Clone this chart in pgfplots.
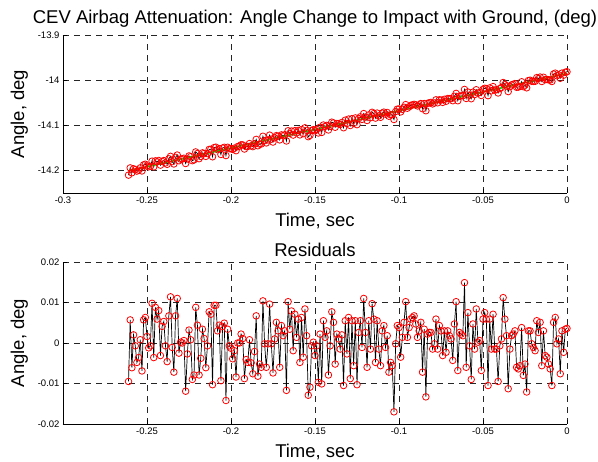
\documentclass[border=0pt]{standalone}
\usepackage{fontspec}
\setmainfont{Liberation Sans}
\usepackage{pgfplots}
\usepackage{pgfplotstable}
\pgfplotsset{compat=1.18}
\definecolor{fitgreen}{RGB}{0,210,0}

% t, angle, residual
\pgfplotstableread{
t y r
-0.261 -14.2104 -0.0095
-0.260 -14.1944 0.0057
-0.259 -14.2053 -0.0061
-0.258 -14.1964 0.0020
-0.257 -14.1983 -0.0007
-0.256 -14.2015 -0.0048
-0.255 -14.1995 -0.0036
-0.254 -14.1943 0.0008
-0.253 -14.2012 -0.0069
-0.252 -14.1877 0.0057
-0.251 -14.1863 0.0063
-0.250 -14.1902 0.0016
-0.249 -14.1921 -0.0012
-0.248 -14.1908 -0.0007
-0.247 -14.1795 0.0098
-0.246 -14.1921 -0.0036
-0.245 -14.1788 0.0088
-0.244 -14.1809 0.0059
-0.243 -14.1780 0.0080
-0.242 -14.1883 -0.0031
-0.241 -14.1802 0.0041
-0.240 -14.1782 0.0053
-0.239 -14.1834 -0.0007
-0.238 -14.1865 -0.0046
-0.237 -14.1743 0.0067
-0.236 -14.1688 0.0114
-0.235 -14.1805 -0.0011
-0.234 -14.1857 -0.0072
-0.233 -14.1710 0.0067
-0.232 -14.1659 0.0110
-0.231 -14.1786 -0.0025
-0.230 -14.1750 0.0002
-0.229 -14.1744 0.0000
-0.228 -14.1730 0.0006
-0.227 -14.1847 -0.0119
-0.226 -14.1746 -0.0027
-0.225 -14.1679 0.0032
-0.224 -14.1695 0.0008
-0.223 -14.1784 -0.0090
-0.222 -14.1765 -0.0079
-0.221 -14.1590 0.0088
-0.220 -14.1626 0.0044
-0.219 -14.1740 -0.0079
-0.218 -14.1691 -0.0038
-0.217 -14.1611 0.0034
-0.216 -14.1626 0.0011
-0.215 -14.1689 -0.0061
-0.214 -14.1627 -0.0007
-0.213 -14.1535 0.0077
-0.212 -14.1533 0.0071
-0.211 -14.1698 -0.0103
-0.210 -14.1494 0.0093
-0.209 -14.1486 0.0093
-0.208 -14.1540 0.0030
-0.207 -14.1518 0.0044
-0.206 -14.1647 -0.0093
-0.205 -14.1505 0.0041
-0.204 -14.1488 0.0049
-0.203 -14.1671 -0.0142
-0.202 -14.1487 0.0034
-0.201 -14.1520 -0.0007
-0.200 -14.1517 -0.0013
-0.199 -14.1535 -0.0039
-0.198 -14.1507 -0.0019
-0.197 -14.1563 -0.0084
-0.196 -14.1471 0.0000
-0.195 -14.1463 0.0000
-0.194 -14.1433 0.0022
-0.193 -14.1435 0.0011
-0.192 -14.1526 -0.0088
-0.191 -14.1471 -0.0041
-0.190 -14.1470 -0.0048
-0.189 -14.1405 0.0008
-0.188 -14.1454 -0.0049
-0.187 -14.1473 -0.0076
-0.186 -14.1409 -0.0021
-0.185 -14.1313 0.0067
-0.184 -14.1454 -0.0082
-0.183 -14.1416 -0.0052
-0.182 -14.1415 -0.0060
-0.181 -14.1243 0.0104
-0.180 -14.1341 -0.0002
-0.179 -14.1391 -0.0060
-0.178 -14.1324 -0.0002
-0.177 -14.1218 0.0096
-0.176 -14.1308 -0.0002
-0.175 -14.1372 -0.0074
-0.174 -14.1279 0.0010
-0.173 -14.1230 0.0051
-0.172 -14.1243 0.0030
-0.171 -14.1324 -0.0060
-0.170 -14.1213 0.0043
-0.169 -14.1230 0.0018
-0.168 -14.1210 0.0030
-0.167 -14.1348 -0.0117
-0.166 -14.1121 0.0102
-0.165 -14.1181 0.0034
-0.164 -14.1128 0.0079
-0.163 -14.1217 -0.0019
-0.162 -14.1119 0.0071
-0.161 -14.1168 0.0014
-0.160 -14.1114 0.0059
-0.159 -14.1213 -0.0048
-0.158 -14.1094 0.0063
-0.157 -14.1184 -0.0035
-0.156 -14.1056 0.0084
-0.155 -14.1114 0.0018
-0.154 -14.1253 -0.0129
-0.153 -14.1225 -0.0109
-0.152 -14.1114 -0.0007
-0.151 -14.1097 0.0002
-0.150 -14.1122 -0.0031
-0.149 -14.1089 -0.0007
-0.148 -14.1171 -0.0097
-0.147 -14.1044 0.0022
-0.146 -14.1159 -0.0101
-0.145 -14.0994 0.0055
-0.144 -14.1027 0.0014
-0.143 -14.1003 0.0030
-0.142 -14.1104 -0.0079
-0.141 -14.1023 -0.0007
-0.140 -14.0931 0.0077
-0.139 -14.0949 0.0051
-0.138 -14.1044 -0.0052
-0.137 -14.0961 0.0022
-0.136 -14.0965 0.0010
-0.135 -14.0982 -0.0015
-0.134 -14.0938 0.0020
-0.133 -14.1055 -0.0105
-0.132 -14.0887 0.0055
-0.131 -14.0961 -0.0027
-0.130 -14.0862 0.0063
-0.129 -14.1005 -0.0088
-0.128 -14.0854 0.0055
-0.127 -14.0957 -0.0056
-0.126 -14.0837 0.0055
-0.125 -14.0987 -0.0103
-0.124 -14.0850 0.0026
-0.123 -14.0812 0.0055
-0.122 -14.0870 -0.0011
-0.121 -14.0741 0.0110
-0.120 -14.0817 0.0026
-0.119 -14.0894 -0.0060
-0.118 -14.0771 0.0055
-0.117 -14.0833 -0.0015
-0.116 -14.0713 0.0097
-0.115 -14.0742 0.0059
-0.114 -14.0841 -0.0048
-0.113 -14.0730 0.0055
-0.112 -14.0792 -0.0015
-0.111 -14.0824 -0.0056
-0.110 -14.0730 0.0030
-0.109 -14.0709 0.0043
-0.108 -14.0754 -0.0011
-0.107 -14.0717 0.0018
-0.106 -14.0799 -0.0072
-0.105 -14.0767 -0.0048
-0.104 -14.0766 -0.0056
-0.103 -14.0872 -0.0170
-0.102 -14.0696 -0.0002
-0.101 -14.0643 0.0043
-0.100 -14.0639 0.0038
-0.099 -14.0704 -0.0035
-0.098 -14.0647 0.0014
-0.097 -14.0601 0.0051
-0.096 -14.0542 0.0102
-0.095 -14.0622 0.0014
-0.094 -14.0590 0.0038
-0.093 -14.0560 0.0059
-0.092 -14.0548 0.0063
-0.091 -14.0536 0.0067
-0.090 -14.0548 0.0047
-0.089 -14.0572 0.0014
-0.088 -14.0548 0.0030
-0.087 -14.0519 0.0051
-0.086 -14.0633 -0.0072
-0.085 -14.0519 0.0034
-0.084 -14.0678 -0.0133
-0.083 -14.0515 0.0022
-0.082 -14.0502 0.0026
-0.081 -14.0494 0.0026
-0.080 -14.0527 -0.0015
-0.079 -14.0506 -0.0002
-0.078 -14.0436 0.0059
-0.077 -14.0502 -0.0015
-0.076 -14.0436 0.0043
-0.075 -14.0441 0.0030
-0.074 -14.0493 -0.0031
-0.073 -14.0424 0.0030
-0.072 -14.0469 -0.0023
-0.071 -14.0407 0.0030
-0.070 -14.0411 0.0018
-0.069 -14.0411 0.0010
-0.068 -14.0456 -0.0043
-0.067 -14.0357 0.0047
-0.066 -14.0294 0.0102
-0.065 -14.0456 -0.0068
-0.064 -14.0354 0.0026
-0.063 -14.0349 0.0022
-0.062 -14.0345 0.0018
-0.061 -14.0206 0.0149
-0.060 -14.0406 -0.0060
-0.059 -14.0263 0.0075
-0.058 -14.0337 -0.0007
-0.057 -14.0412 -0.0090
-0.056 -14.0266 0.0047
-0.055 -14.0320 -0.0015
-0.054 -14.0213 0.0084
-0.053 -14.0287 0.0002
-0.052 -14.0274 0.0006
-0.051 -14.0340 -0.0068
-0.050 -14.0205 0.0059
-0.049 -14.0180 0.0075
-0.048 -14.0188 0.0059
-0.047 -14.0344 -0.0105
-0.046 -14.0172 0.0059
-0.045 -14.0237 -0.0015
-0.044 -14.0143 0.0071
-0.043 -14.0221 -0.0015
-0.042 -14.0213 -0.0015
-0.041 -14.0284 -0.0095
-0.040 -14.0188 -0.0007
-0.039 -14.0163 0.0010
-0.038 -14.0053 0.0112
-0.037 -14.0097 0.0059
-0.036 -14.0130 0.0018
-0.035 -14.0253 -0.0113
-0.034 -14.0146 -0.0015
-0.033 -14.0105 0.0018
-0.032 -14.0093 0.0022
-0.031 -14.0077 0.0030
-0.030 -14.0158 -0.0060
-0.029 -14.0154 -0.0064
-0.028 -14.0138 -0.0056
-0.027 -14.0036 0.0038
-0.026 -14.0145 -0.0080
-0.025 -14.0109 -0.0052
-0.024 -14.0170 -0.0121
-0.023 -14.0010 0.0030
-0.022 -14.0002 0.0030
-0.021 -14.0026 -0.0002
-0.020 -14.0027 -0.0011
-0.019 -14.0026 -0.0019
-0.018 -13.9944 0.0055
-0.017 -13.9965 0.0026
-0.016 -13.9932 0.0051
-0.015 -14.0030 -0.0056
-0.014 -13.9936 0.0030
-0.013 -13.9989 -0.0031
-0.012 -13.9985 -0.0035
-0.011 -13.9993 -0.0052
-0.010 -13.9997 -0.0064
-0.009 -14.0030 -0.0105
-0.008 -13.9865 0.0051
-0.007 -13.9845 0.0063
-0.006 -13.9902 -0.0002
-0.005 -13.9882 0.0010
-0.004 -13.9959 -0.0076
-0.003 -13.9845 0.0030
-0.002 -13.9890 -0.0023
-0.001 -13.9825 0.0034
0.000 -13.9814 0.0036
}\data

\pgfplotsset{
  panel/.style={
    scale only axis,
    width=504pt,
    axis x line*=bottom,
    axis y line*=left,
    axis line style={-, black, line width=0.6pt},
    xmin=-0.3, xmax=0,
    grid=major,
    major grid style={black!85, line width=0.6pt, dash pattern=on 6pt off 5pt},
    tick align=inside,
    major tick length=4pt,
    tick style={black, line width=0.6pt},
    ticklabel style={font=\fontsize{9.5}{11}\selectfont},
    label style={font=\fontsize{18.5}{21}\selectfont},
    title style={font=\fontsize{18.5}{21}\selectfont},
    xlabel style={yshift=-3pt},
    ylabel style={yshift=3pt},
    scaled ticks=false,
    /pgf/number format/assume math mode=true,
    clip=false,
  },
  datapts/.style={black, line width=0.7pt, mark=o, mark size=3.3pt,
    mark options={red, line width=0.8pt, solid}},
}

\begin{document}
\begin{tikzpicture}[x=1pt,y=1pt]
\useasboundingbox (0,0) rectangle (598,462);

\begin{axis}[panel,
  at={(63pt,269pt)}, anchor=south west,
  height=158pt,
  ymin=-14.25, ymax=-13.9,
  xtick={-0.3,-0.25,-0.2,-0.15,-0.1,-0.05,0},
  xticklabels={-0.3,-0.25,-0.2,-0.15,-0.1,-0.05,0},
  ytick={-14.2,-14.1,-14,-13.9},
  yticklabels={-14.2,-14.1,-14,-13.9},
  title={CEV Airbag Attenuation: Angle Change to Impact with Ground, (deg)},
  title style={yshift=-2pt},
  xlabel={Time, sec},
  ylabel={Angle, deg},
]
\addplot[datapts] table[x=t, y=y] {\data};
\addplot[fitgreen, line width=1.5pt] coordinates {(-0.261,-14.2008) (0,-13.985)};
\end{axis}

\begin{axis}[panel,
  at={(63pt,38pt)}, anchor=south west,
  height=162pt,
  ymin=-0.02, ymax=0.02,
  xtick={-0.25,-0.2,-0.15,-0.1,-0.05,0},
  xticklabels={-0.25,-0.2,-0.15,-0.1,-0.05,0},
  ytick={-0.02,-0.01,0,0.01,0.02},
  yticklabels={-0.02,-0.01,0,0.01,0.02},
  title={Residuals},
  title style={yshift=-4pt},
  xlabel={Time, sec},
  ylabel={Angle, deg},
]
\addplot[datapts] table[x=t, y=r] {\data};
\end{axis}
\end{tikzpicture}
\end{document}
